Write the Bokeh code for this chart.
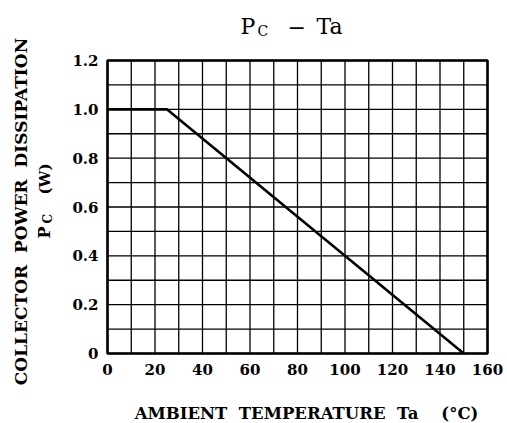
import math
import numpy as np
from bokeh.plotting import figure
from bokeh.models import Range1d, FixedTicker, Label, LinearAxis
from bokeh.embed import file_html
from bokeh.resources import INLINE

# ---- data ----
temperature_c = [0, 25, 150]
power_w = [1.0, 1.0, 0.0]

x_tick_values = [0, 20, 40, 60, 80, 100, 120, 140, 160]
x_tick_labels = ["0", "20", "40", "60", "80", "100", "120", "140", "160"]
y_tick_values = [0.0, 0.2, 0.4, 0.6, 0.8, 1.0, 1.2]
y_tick_labels = ["0", "0.2", "0.4", "0.6", "0.8", "1.0", "1.2"]
x_grid_step = 10
y_grid_step = 0.1
x_limits = [0, 160]
y_limits = [0, 1.2]

# ---- layout (pixel geometry of the canvas) ----
W, H = 507, 423
PL, PR, PT, PB = 107, 487, 60, 353      # plot-area edges in canvas pixels
SX = (PR - PL) / (x_limits[1] - x_limits[0])
SY = (PB - PT) / (y_limits[1] - y_limits[0])
x_view = (x_limits[0] - PL / SX, x_limits[0] + (W - PL) / SX)
y_view = (y_limits[0] - (H - PB) / SY, y_limits[0] + PB / SY)

def dx(px):
    return x_limits[0] + (px - PL) / SX

def dy(py):
    return y_limits[0] + (PB - py) / SY

p = figure(width=W, height=H, output_backend="svg", toolbar_location=None,
           x_range=Range1d(*x_view), y_range=Range1d(*y_view),
           x_axis_location=None, y_axis_location=None,
           min_border=0, min_border_left=0, min_border_right=0,
           min_border_top=0, min_border_bottom=0)
p.title.visible = False
p.background_fill_color = "white"
p.border_fill_color = "white"
p.outline_line_color = None
p.grid.visible = False

SERIF = "DejaVu Serif"

# axes drawn at the edges of the plot area
xax = LinearAxis(fixed_location=y_limits[0], bounds=tuple(x_limits),
                 ticker=FixedTicker(ticks=x_tick_values))
yax = LinearAxis(fixed_location=x_limits[0], bounds=tuple(y_limits),
                 ticker=FixedTicker(ticks=y_tick_values))
xax.major_label_overrides = {v: s for v, s in zip(x_tick_values, x_tick_labels)}
yax.major_label_overrides = {v: s for v, s in zip(y_tick_values, y_tick_labels)}
for ax in (xax, yax):
    ax.axis_line_color = None
    ax.major_tick_line_color = None
    ax.minor_tick_line_color = None
    ax.major_tick_out = 0
    ax.major_tick_in = 0
    ax.major_label_text_font = SERIF
    ax.major_label_text_font_style = "bold"
    ax.major_label_text_font_size = "15px"
    ax.major_label_text_color = "black"
xax.major_label_standoff = 10
yax.major_label_standoff = 9
p.add_layout(xax, "below")
p.add_layout(yax, "left")

# grid lines of the chart area
gx = list(np.arange(x_limits[0], x_limits[1] + 1e-9, x_grid_step))
gy = list(np.round(np.arange(y_limits[0], y_limits[1] + 1e-9, y_grid_step), 3))
p.segment(x0=gx, y0=[y_limits[0]] * len(gx), x1=gx, y1=[y_limits[1]] * len(gx),
          line_color="black", line_width=1.3)
p.segment(x0=[x_limits[0]] * len(gy), y0=gy, x1=[x_limits[1]] * len(gy), y1=gy,
          line_color="black", line_width=1.3)
# frame
p.quad(left=[x_limits[0]], right=[x_limits[1]], bottom=[y_limits[0]], top=[y_limits[1]],
       fill_color=None, line_color="black", line_width=2.6)

# curve
p.line(temperature_c, power_w, line_color="black", line_width=2.6)

def add_label(text, px, py, size, style="bold", align="left", angle=0.0):
    p.add_layout(Label(x=dx(px), y=dy(py), text=text, text_font=SERIF,
                       text_font_style=style, text_font_size=size,
                       text_align=align, text_baseline="middle",
                       text_color="black", angle=angle))

# title  P_C - Ta   (positions are glyph centres)
add_label("P", 240, 26, "22px", style="normal")
add_label("C", 257, 30, "14px", style="normal")
add_label("\u2212", 287, 26, "22px", style="normal")
add_label("Ta", 316, 26, "22px", style="normal")

# y axis title
add_label("COLLECTOR\u00a0 POWER\u00a0 DISSIPATION", 20, 211, "17px", align="center",
          angle=math.pi / 2)
add_label("P", 44, 238, "16px", angle=math.pi / 2)
add_label("C", 47, 223, "12px", angle=math.pi / 2)
add_label("(W)", 44, 194, "15px", angle=math.pi / 2)

# x axis title
add_label("AMBIENT\u00a0 TEMPERATURE\u00a0 Ta\u00a0 \u00a0 (\u00b0C)", 306, 413, "16.5px",
          align="center")

open("out.html", "w").write(file_html(p, INLINE))
